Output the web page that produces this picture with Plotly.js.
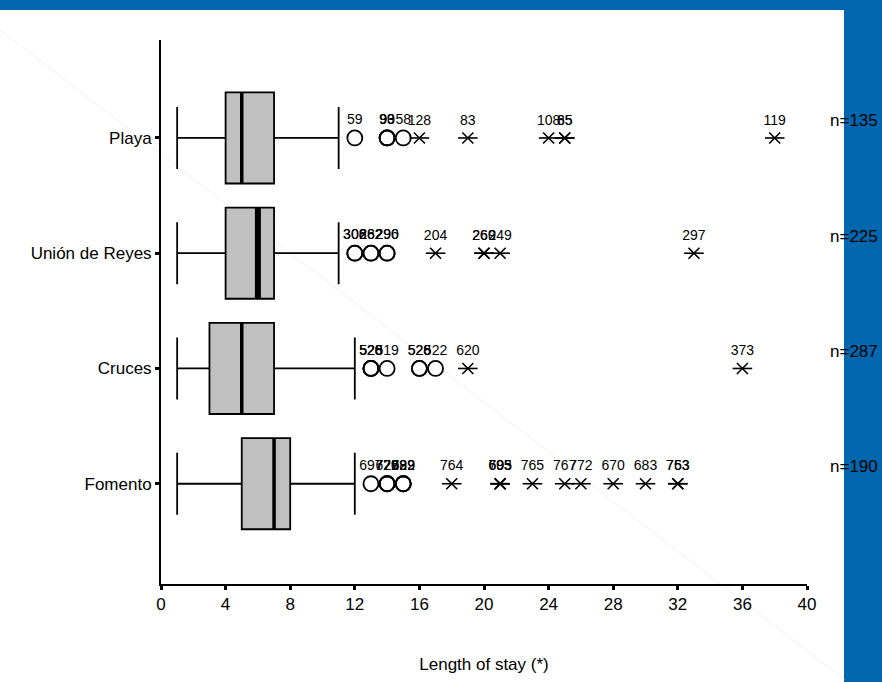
<!DOCTYPE html>
<html>
<head>
<meta charset="utf-8">
<script src="https://cdn.plot.ly/plotly-3.0.1.min.js"></script>
<style>
  html, body { margin: 0; padding: 0; background: #ffffff; }
  #wrap { position: relative; width: 882px; height: 682px; overflow: hidden; background: #ffffff; }
  #topbar { position: absolute; left: 0; top: 0; width: 882px; height: 10px; background: #0067ae; }
  #sidebar { position: absolute; left: 844px; top: 0; width: 38px; height: 682px; background: #0067ae; }
  #chart { position: absolute; left: 0; top: 0; width: 882px; height: 682px; }
</style>
</head>
<body>
<div id="wrap">
  <div id="topbar"></div>
  <div id="sidebar"></div>
  <div id="chart"></div>
</div>
<script>
// Categories, bottom to top on the chart
const categories = ['Fomento', 'Cruces', 'Unión de Reyes', 'Playa'];
const sampleSizes = [190, 287, 225, 135];

// Box statistics (days)
const lowerWhisker = [1, 1, 1, 1];
const q1Values     = [5, 3, 4, 4];
const medianValues = [7, 5, 6, 5];
const q3Values     = [8, 7, 7, 7];
const upperWhisker = [12, 12, 11, 11];

// Outliers (circles) and extreme values (asterisks) with case numbers
const fomentoOutX   = [13, 14, 14, 14, 15, 15, 15];
const fomentoOutLbl = ['697', '672', '720', '729', '722', '689', '699'];
const fomentoExtX   = [18, 21, 21, 21, 23, 25, 26, 28, 30, 32, 32];
const fomentoExtLbl = ['764', '705', '693', '695', '765', '767', '772', '670', '683', '763', '753'];

const crucesOutX   = [13, 13, 13, 14, 16, 16, 17];
const crucesOutLbl = ['526', '520', '528', '519', '526', '528', '522'];
const crucesExtX   = [19, 36];
const crucesExtLbl = ['620', '373'];

const unionOutX   = [12, 12, 13, 13, 14, 14];
const unionOutLbl = ['308', '306', '282', '262', '296', '290'];
const unionExtX   = [17, 20, 20, 21, 33];
const unionExtLbl = ['204', '260', '269', '249', '297'];

const playaOutX   = [12, 14, 14, 14, 15];
const playaOutLbl = ['59', '99', '93', '90', '58'];
const playaExtX   = [16, 19, 24, 25, 25, 38];
const playaExtLbl = ['128', '83', '108', '65', '85', '119'];

const xTickVals = [0, 4, 8, 12, 16, 20, 24, 28, 32, 36, 40];
const xAxisTitle = 'Length of stay (*)';

const outX   = [fomentoOutX, crucesOutX, unionOutX, playaOutX];
const outLbl = [fomentoOutLbl, crucesOutLbl, unionOutLbl, playaOutLbl];
const extX   = [fomentoExtX, crucesExtX, unionExtX, playaExtX];
const extLbl = [fomentoExtLbl, crucesExtLbl, unionExtLbl, playaExtLbl];

const FONT = 'Liberation Sans, Arial, Helvetica, sans-serif';
const BOXW = 0.79;
const pos = categories.map((c, i) => i);

const traces = [];
traces.push({
  type: 'box',
  orientation: 'h',
  y: pos,
  q1: q1Values,
  median: medianValues,
  q3: q3Values,
  lowerfence: lowerWhisker,
  upperfence: upperWhisker,
  width: BOXW,
  whiskerwidth: 0.68,
  fillcolor: '#c0c0c0',
  line: { color: '#000000', width: 1.8 },
  boxpoints: false,
  hoverinfo: 'skip',
  showlegend: false
});

// Thick median lines
pos.forEach((p, i) => {
  traces.push({
    type: 'scatter', mode: 'lines',
    x: [medianValues[i], medianValues[i]],
    y: [p - BOXW / 2, p + BOXW / 2],
    line: { color: '#000000', width: i === 2 ? 6 : 3.5 },
    hoverinfo: 'skip', showlegend: false
  });
});

pos.forEach((p, i) => {
  traces.push({
    type: 'scatter', mode: 'markers+text',
    x: outX[i], y: outX[i].map(() => p),
    text: outLbl[i], textposition: 'top center',
    textfont: { family: FONT, size: 14, color: '#000000' },
    marker: { symbol: 'circle-open', size: 15, color: '#000000', line: { width: 1.8, color: '#000000' } },
    cliponaxis: false, hoverinfo: 'skip', showlegend: false
  });
  traces.push({
    type: 'scatter', mode: 'markers+text',
    x: extX[i], y: extX[i].map(() => p),
    text: extLbl[i], textposition: 'top center',
    textfont: { family: FONT, size: 14, color: '#000000' },
    marker: { symbol: 'line-ew-open', size: 14, color: '#000000', line: { width: 1.6, color: '#000000' } },
    cliponaxis: false, hoverinfo: 'skip', showlegend: false
  });
  traces.push({
    type: 'scatter', mode: 'markers',
    x: extX[i], y: extX[i].map(() => p),
    marker: { symbol: 'x-thin-open', size: 11, color: '#000000', line: { width: 1.6, color: '#000000' } },
    cliponaxis: false, hoverinfo: 'skip', showlegend: false
  });
});

const annotations = pos.map((p, i) => ({
  xref: 'paper', yref: 'y',
  x: 1.1125, y: p, yshift: 17,
  xanchor: 'right', yanchor: 'middle',
  text: 'n=' + sampleSizes[i],
  showarrow: false,
  font: { family: FONT, size: 17, color: '#000000' }
}));

const layout = {
  width: 882, height: 682,
  autosize: false,
  margin: { l: 161, r: 75, t: 40, b: 98 },
  paper_bgcolor: 'rgba(0,0,0,0)',
  plot_bgcolor: 'rgba(0,0,0,0)',
  showlegend: false,
  font: { family: FONT, color: '#000000' },
  xaxis: {
    range: [0, 40],
    tickvals: xTickVals,
    ticktext: xTickVals.map(String),
    showgrid: false, zeroline: false,
    showline: true, linecolor: '#000000', linewidth: 2,
    ticks: 'outside', ticklen: 4, tickwidth: 3, tickcolor: '#000000',
    tickfont: { family: FONT, size: 17, color: '#000000' },
    title: { text: xAxisTitle, font: { family: FONT, size: 17, color: '#000000' }, standoff: 45 },
    automargin: false
  },
  yaxis: {
    range: [-0.87, 3.85],
    tickvals: pos,
    ticktext: categories,
    showgrid: false, zeroline: false,
    showline: true, linecolor: '#000000', linewidth: 2,
    ticks: 'outside', ticklen: 4, tickwidth: 3, tickcolor: '#000000',
    tickfont: { family: FONT, size: 17, color: '#000000' },
    automargin: false
  },
  shapes: [{
    type: 'line', xref: 'paper', yref: 'paper', layer: 'below',
    x0: -0.2492, y0: 1.0184, x1: 1.0588, y1: -0.1765,
    line: { color: 'rgba(225,225,225,0.45)', width: 1 }
  }],
  annotations: annotations
};

Plotly.newPlot('chart', traces, layout, { staticPlot: true, displayModeBar: false });
</script>
</body>
</html>
